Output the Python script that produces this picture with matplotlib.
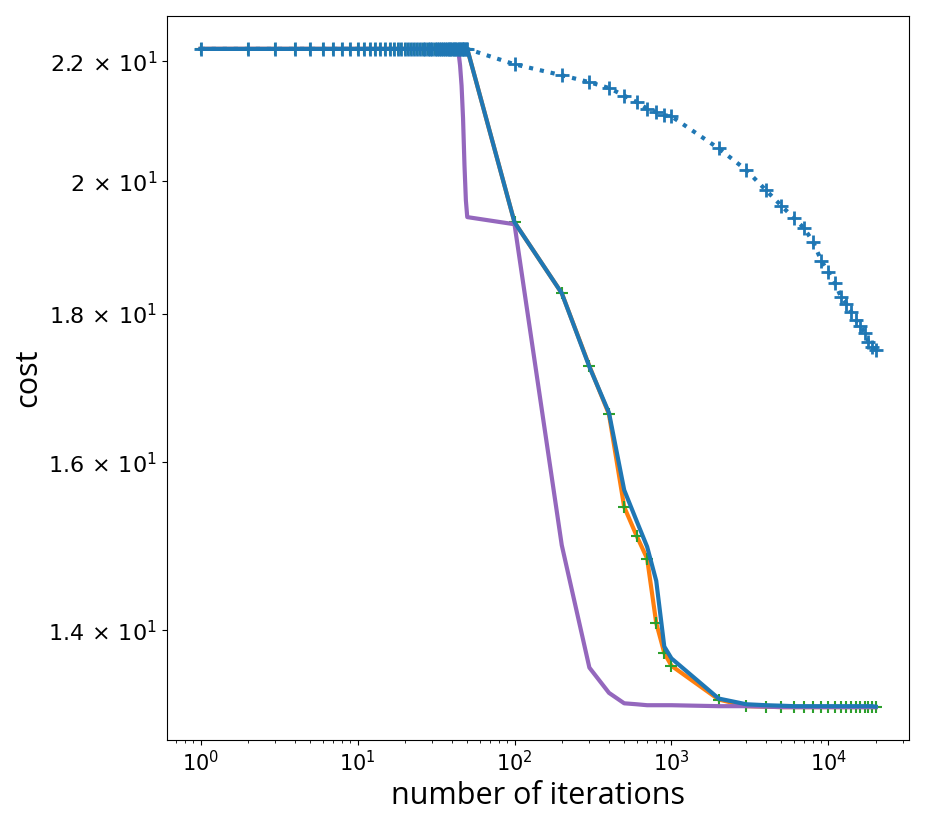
import matplotlib
matplotlib.use("Agg")
import matplotlib.pyplot as plt
from matplotlib.ticker import NullLocator

# iteration schedules
it_early = list(range(1, 51))
it_mid = [100, 200, 300, 400, 500, 600, 700, 800, 900, 1000]
it_late = [2000, 3000, 4000, 5000, 6000, 7000, 8000, 9000, 10000, 11000,
           12000, 13000, 14000, 15000, 16000, 17000, 18000, 19000, 20000]
iterations = it_early + it_mid + it_late

flat_cost = [22.22, 22.22, 22.22, 22.22, 22.22, 22.22, 22.22, 22.22, 22.22, 22.22,
             22.22, 22.22, 22.22, 22.22, 22.22, 22.22, 22.22, 22.22, 22.22, 22.22,
             22.22, 22.22, 22.22, 22.22, 22.22, 22.22, 22.22, 22.22, 22.22, 22.22,
             22.22, 22.22, 22.22, 22.22, 22.22, 22.22, 22.22, 22.22, 22.22, 22.22,
             22.22, 22.22, 22.22, 22.22, 22.22, 22.22, 22.22, 22.22, 22.22, 22.22]

# dotted blue run
slow_mid = [21.95, 21.76, 21.64, 21.54, 21.41, 21.30, 21.19, 21.13, 21.08, 21.06]
slow_late = [20.53, 20.18, 19.86, 19.62, 19.43, 19.27, 19.06, 18.78, 18.61, 18.45,
             18.25, 18.15, 18.03, 17.91, 17.83, 17.73, 17.61, 17.54, 17.49]

# orange run (with green markers)
orange_mid = [19.36, 18.30, 17.27, 16.62, 15.44, 15.09, 14.82, 14.08, 13.75, 13.61]
orange_late = [13.25, 13.18, 13.175, 13.17, 13.17, 13.17, 13.17, 13.17, 13.17, 13.17,
               13.17, 13.17, 13.17, 13.17, 13.17, 13.17, 13.17, 13.17, 13.17]

# solid blue run
blue_mid = [19.36, 18.30, 17.26, 16.64, 15.65, 15.27, 14.96, 14.56, 13.82, 13.69]
blue_late = [13.26, 13.20, 13.19, 13.185, 13.18, 13.18, 13.18, 13.18, 13.18, 13.18,
             13.18, 13.18, 13.18, 13.18, 13.18, 13.18, 13.18, 13.18, 13.175]

# purple run
purple_early = [22.22, 22.22, 22.22, 22.22, 22.22, 22.22, 22.22, 22.22, 22.22, 22.22,
                22.22, 22.22, 22.22, 22.22, 22.22, 22.22, 22.22, 22.22, 22.22, 22.22,
                22.22, 22.22, 22.22, 22.22, 22.22, 22.22, 22.22, 22.22, 22.22, 22.22,
                22.22, 22.22, 22.22, 22.22, 22.22, 22.22, 22.22, 22.22, 22.22, 22.22,
                22.22, 22.22, 22.22, 22.16, 21.93, 21.58, 21.03, 20.26, 19.70, 19.44]
purple_mid = [19.33, 14.98, 13.59, 13.32, 13.21, 13.20, 13.19, 13.19, 13.19, 13.19]
purple_late = [13.18, 13.18, 13.175, 13.17, 13.17, 13.17, 13.17, 13.17, 13.17, 13.17,
               13.17, 13.17, 13.17, 13.17, 13.17, 13.17, 13.17, 13.17, 13.17]

ytick_values = [14, 16, 18, 20, 22]
ytick_labels = [r"$\mathdefault{1.4\,\times\,10^{1}}$", r"$\mathdefault{1.6\,\times\,10^{1}}$",
                r"$\mathdefault{1.8\,\times\,10^{1}}$", r"$\mathdefault{2\,\times\,10^{1}}$",
                r"$\mathdefault{2.2\,\times\,10^{1}}$"]

slow = flat_cost + slow_mid + slow_late
orange = flat_cost + orange_mid + orange_late
blue = flat_cost + blue_mid + blue_late
purple = purple_early + purple_mid + purple_late

fig = plt.figure(figsize=(9.27, 8.33), dpi=100)
ax = fig.add_axes([0.180, 0.1116, 0.801, 0.8692])

ax.plot(iterations, orange, color='C1', lw=3)
ax.plot(iterations, orange, linestyle='none', marker='+', color='C2',
        markersize=9, markeredgewidth=1.5)
ax.plot(iterations, purple, color='C4', lw=3)
ax.plot(iterations, blue, color='C0', lw=3)
ax.plot(iterations, slow, linestyle=':', marker='+', color='C0', lw=3,
        markersize=10, markeredgewidth=2)

ax.set_xscale('log')
ax.set_yscale('log')
ax.set_yticks(ytick_values)
ax.set_yticklabels(ytick_labels)
ax.yaxis.set_minor_locator(NullLocator())
ax.tick_params(axis='x', which='both', labelsize=15)
ax.tick_params(axis='y', which='both', labelsize=16)
ax.set_xlabel('number of iterations', fontsize=22, fontfamily='Open Sans')
ax.set_ylabel('cost', fontsize=22, fontfamily='Open Sans')

fig.savefig('out.png', dpi=100)
